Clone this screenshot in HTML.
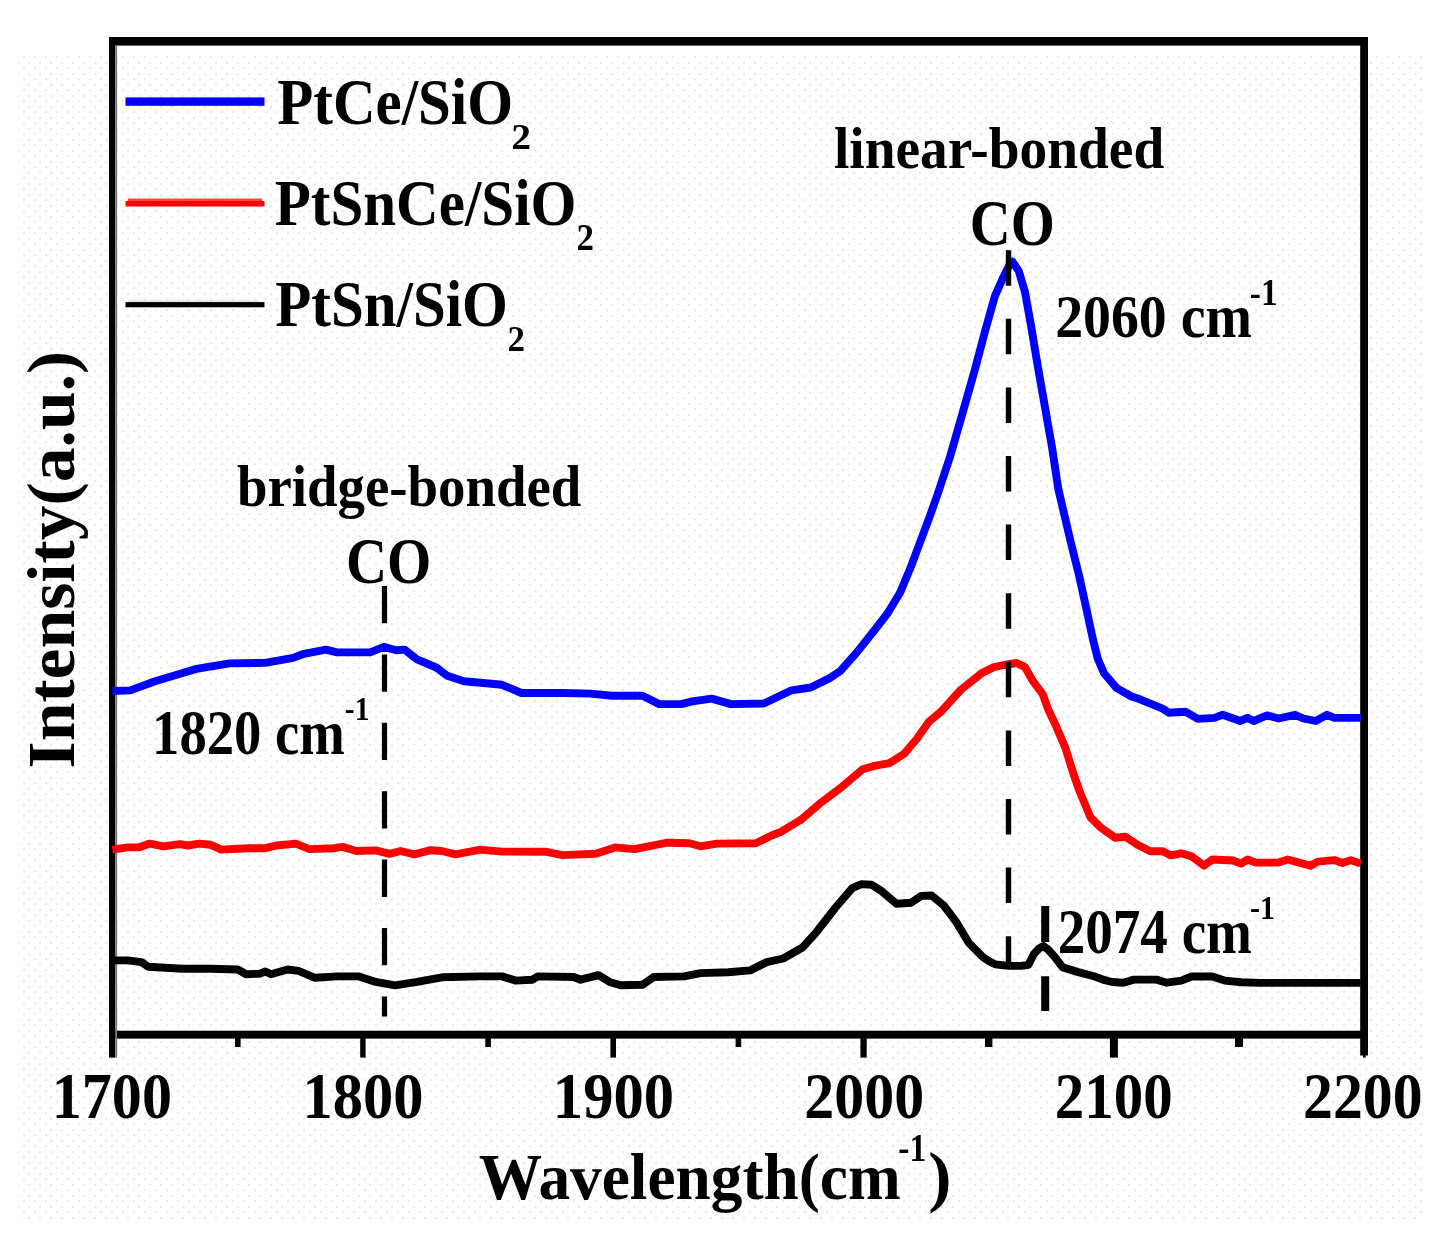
<!DOCTYPE html>
<html lang="en"><head><meta charset="utf-8"><title>CO-FTIR spectra</title>
<style>html,body{margin:0;padding:0;background:#fff;overflow:hidden}svg{display:block}text{font-family:"Liberation Serif",serif;font-size:56px;fill:#000}</style></head>
<body>
<svg width="1451" height="1251" viewBox="0 0 1451 1251">
<defs><pattern id="dots" width="11" height="11" patternUnits="userSpaceOnUse"><rect x="1" y="1" width="2.2" height="2.2" fill="#ececec"/><rect x="6" y="7" width="2.2" height="2.2" fill="#ececec"/></pattern></defs>
<rect width="1451" height="1251" fill="#fff"/>
<rect x="18" y="56" width="1405" height="1164" fill="url(#dots)"/>
<g fill="#000"><rect x="235.0" y="1034" width="5.6" height="13.0"/><rect x="360.2" y="1034" width="5.4" height="23.6"/><rect x="485.3" y="1034" width="5.6" height="13.0"/><rect x="610.4" y="1034" width="5.6" height="23.6"/><rect x="735.6" y="1034" width="5.6" height="13.0"/><rect x="860.4" y="1034" width="6.3" height="23.6"/><rect x="985.0" y="1034" width="7.4" height="13.0"/><rect x="1109.9" y="1034" width="8" height="23.6"/><rect x="1235.0" y="1034" width="8" height="13.0"/></g>
<g fill="#000"><rect x="109" y="37" width="1259" height="8.6"/><rect x="109" y="1030.7" width="1259" height="7.9"/><rect x="109" y="37" width="6.2" height="1020.6"/><rect x="115.2" y="45.6" width="1.9" height="1012" fill="#737a7b"/><rect x="1360.2" y="37" width="7.8" height="1018.5"/><rect x="1363" y="1055" width="2.6" height="2.6"/></g>
<g fill="none" stroke-linejoin="round" stroke-linecap="butt" stroke-width="7.9"><path stroke="#0000ff" d="M112.4,691.0 L130.3,690.4 L155.1,681.3 L182.7,673.0 L196.5,668.9 L229.6,663.4 L265.4,662.9 L293.0,657.9 L304.0,653.8 L326.0,649.6 L337.0,652.4 L370.2,652.4 L383.9,646.9 L396.3,650.2 L404.6,649.6 L417.0,659.3 L436.3,667.5 L447.3,675.8 L463.9,681.3 L485.9,683.3 L502.0,684.8 L521.4,693.0 L562.7,693.0 L590.3,693.6 L612.3,695.8 L642.6,695.8 L659.2,704.1 L681.2,704.1 L692.3,701.3 L711.6,698.6 L730.9,704.1 L763.9,703.5 L791.5,690.3 L810.8,687.5 L830.1,677.9 L840.0,671.3 L856.6,652.6 L873.3,631.8 L887.8,613.0 L900.3,592.3 L910.7,567.3 L920.0,542.4 L929.4,517.4 L937.7,494.0 L950.2,456.2 L962.7,412.6 L975.1,368.9 L985.5,329.4 L994.9,296.1 L1003.2,277.4 L1009.4,265.0 L1012.6,261.8 L1018.8,271.2 L1025.0,292.0 L1031.3,327.3 L1037.5,364.7 L1044.8,406.3 L1052.1,447.9 L1058.3,489.0 L1063.5,511.2 L1070.8,542.4 L1079.1,575.6 L1086.4,608.9 L1092.6,638.0 L1097.8,658.8 L1104.0,673.3 L1116.5,687.9 L1131.0,696.2 L1140.0,699.3 L1162.7,708.6 L1168.9,712.7 L1185.4,711.7 L1197.8,718.9 L1214.4,717.9 L1222.7,714.8 L1240.2,721.0 L1247.5,717.9 L1253.7,721.0 L1267.1,715.4 L1278.5,718.5 L1295.0,714.8 L1303.3,718.5 L1315.7,721.0 L1327.1,714.8 L1334.3,717.9 L1360.6,717.9"/><path stroke="#ff0000" d="M112.4,849.6 L127.6,847.4 L138.6,847.4 L149.6,843.6 L163.4,846.3 L179.9,844.1 L188.2,845.5 L199.2,843.6 L210.3,844.7 L221.3,849.6 L248.9,848.2 L265.4,848.2 L276.4,845.5 L295.7,843.6 L309.5,849.1 L334.3,848.2 L342.6,846.9 L356.4,851.0 L375.7,850.4 L389.5,853.8 L400.5,851.0 L414.3,854.3 L430.8,850.2 L441.8,851.0 L455.6,854.3 L480.4,849.6 L502.0,851.6 L546.2,851.8 L562.7,855.1 L595.8,853.8 L615.1,847.4 L634.4,849.1 L667.5,842.7 L689.5,843.3 L700.5,846.3 L717.1,843.6 L755.7,843.3 L772.2,835.3 L780.0,832.3 L800.7,819.9 L821.4,802.3 L842.0,786.8 L862.7,769.3 L873.0,766.2 L889.6,763.1 L904.1,753.8 L916.5,739.3 L928.9,721.7 L941.3,711.4 L960.6,690.0 L981.4,673.3 L993.8,667.1 L1004.2,665.0 L1016.7,663.0 L1025.0,667.1 L1033.3,681.7 L1042.7,694.1 L1047.9,708.7 L1055.0,723.7 L1065.3,747.6 L1073.6,774.4 L1080.0,792.3 L1090.3,817.1 L1100.7,827.5 L1115.1,837.8 L1125.5,836.8 L1137.9,845.0 L1150.3,851.2 L1162.7,851.2 L1171.0,855.4 L1181.3,853.3 L1191.6,856.4 L1204.0,865.7 L1212.3,859.5 L1233.0,860.5 L1241.3,863.6 L1247.5,859.5 L1255.7,862.6 L1278.5,862.6 L1287.8,859.5 L1299.2,862.6 L1310.5,865.7 L1317.8,861.6 L1334.3,860.1 L1342.6,863.0 L1350.8,860.1 L1360.6,863.6"/><path stroke="#000" d="M112.4,960.4 L127.6,960.4 L141.4,962.1 L148.2,966.8 L182.7,968.7 L210.3,968.7 L237.8,969.5 L246.1,974.2 L259.9,973.7 L265.4,971.5 L270.9,974.2 L287.5,969.5 L298.5,970.9 L315.0,977.8 L337.1,976.4 L359.1,976.4 L375.7,981.9 L395.0,985.3 L417.0,981.9 L441.8,977.3 L480.0,976.4 L502.0,976.4 L515.8,980.6 L532.4,979.7 L537.9,976.4 L573.7,977.0 L580.6,979.7 L598.5,975.1 L609.6,981.9 L620.6,985.3 L642.6,984.7 L653.7,977.0 L684.0,976.4 L700.5,973.1 L728.1,972.3 L750.2,970.4 L766.7,962.1 L783.2,958.5 L802.5,947.5 L816.3,932.3 L835.6,907.5 L852.2,888.2 L861.4,884.1 L871.7,884.7 L882.0,891.4 L896.5,903.8 L911.0,902.7 L921.3,895.9 L931.6,895.5 L944.1,905.8 L956.5,922.4 L968.9,943.0 L983.3,957.5 L990.0,961.7 L995.2,964.3 L1008.7,965.9 L1021.2,965.9 L1028.4,964.8 L1033.6,954.4 L1039.0,948.5 L1043.5,946.1 L1048.0,949.5 L1054.4,956.5 L1062.7,967.4 L1078.3,972.1 L1093.9,976.2 L1104.8,980.2 L1112.0,982.0 L1123.4,982.8 L1133.8,979.6 L1156.5,979.6 L1166.8,982.7 L1181.3,980.6 L1191.6,976.5 L1212.3,976.5 L1224.7,980.6 L1241.3,982.3 L1259.9,982.9 L1360.6,982.9"/></g>
<g stroke="#000" fill="none"><line x1="384.5" y1="586" x2="384.5" y2="1016.5" stroke-width="5.2" stroke-dasharray="37.3 31.1"/><line x1="1008.5" y1="250.2" x2="1008.5" y2="969" stroke-width="5.4" stroke-dasharray="35.5 33.1"/><line x1="1045.2" y1="906" x2="1045.2" y2="1011" stroke-width="8" stroke-dasharray="36 34.2"/></g>
<g><rect x="125.5" y="97.4" width="139" height="8.4" fill="#0000ff"/><rect x="128" y="198.5" width="134" height="2.6" fill="#ee4b3c"/><rect x="125.5" y="201" width="139" height="5.5" fill="#ff0000"/><rect x="128" y="300.2" width="131" height="2" fill="#e6e2dc"/><rect x="125.5" y="302.1" width="139" height="5.2" fill="#000"/></g>
<text font-weight="bold" transform="translate(51.66,1117.71) scale(1.0746,1.1841)">1700</text>
<text font-weight="bold" transform="translate(302.54,1117.71) scale(1.0793,1.1841)">1800</text>
<text font-weight="bold" transform="translate(552.83,1117.71) scale(1.0822,1.1841)">1900</text>
<text font-weight="bold" transform="translate(804.29,1117.71) scale(1.0698,1.1841)">2000</text>
<text font-weight="bold" transform="translate(1054.83,1117.71) scale(1.0530,1.1841)">2100</text>
<text font-weight="bold" transform="translate(1303.10,1117.71) scale(1.0670,1.1841)">2200</text>
<text font-weight="bold" transform="translate(277.25,124.00) scale(1.0533,1.1537)">PtCe/SiO</text>
<text font-weight="bold" transform="translate(511.21,149.10) scale(0.7054,0.6514)">2</text>
<text font-weight="bold" transform="translate(274.65,225.00) scale(1.0545,1.1673)">PtSnCe/SiO</text>
<text font-weight="bold" transform="translate(576.50,250.10) scale(0.6237,0.6649)">2</text>
<text font-weight="bold" transform="translate(275.35,326.30) scale(1.0527,1.1646)">PtSn/SiO</text>
<text font-weight="bold" transform="translate(507.50,351.00) scale(0.6237,0.6514)">2</text>
<text font-weight="bold" transform="translate(833.91,168.30) scale(0.9893,1.0555)">linear-bonded</text>
<text font-weight="bold" transform="translate(969.82,244.61) scale(1.0115,1.1707)">CO</text>
<text font-weight="bold" transform="translate(1055.16,337.25) scale(0.9967,1.0940)">2060 cm</text>
<text font-weight="bold" transform="translate(1249.81,305.10) scale(0.5940,0.6811)">-1</text>
<text font-weight="bold" transform="translate(236.97,506.10) scale(0.9793,1.0400)">bridge-bonded</text>
<text font-weight="bold" transform="translate(345.90,582.52) scale(1.0166,1.1680)">CO</text>
<text font-weight="bold" transform="translate(152.11,753.93) scale(0.9755,1.1391)">1820 cm</text>
<text font-weight="bold" transform="translate(344.85,719.70) scale(0.5269,0.5892)">-1</text>
<text font-weight="bold" transform="translate(1057.69,952.73) scale(0.9838,1.1311)">2074 cm</text>
<text font-weight="bold" transform="translate(1249.93,918.90) scale(0.5341,0.6054)">-1</text>
<text font-weight="bold" transform="translate(478.65,1199.10) scale(1.1306,1.1794)">Wavelength(cm</text>
<text font-weight="bold" transform="translate(898.30,1161.20) scale(0.5988,0.7216)">-1</text>
<text font-weight="bold" transform="translate(928.32,1199.10) scale(1.2483,1.2000)">)</text>
<text font-weight="bold" transform="translate(74.00,768.39) rotate(-90) scale(1.2431,1.2000)">Intensity(a.u.)</text>
</svg>
</body></html>
